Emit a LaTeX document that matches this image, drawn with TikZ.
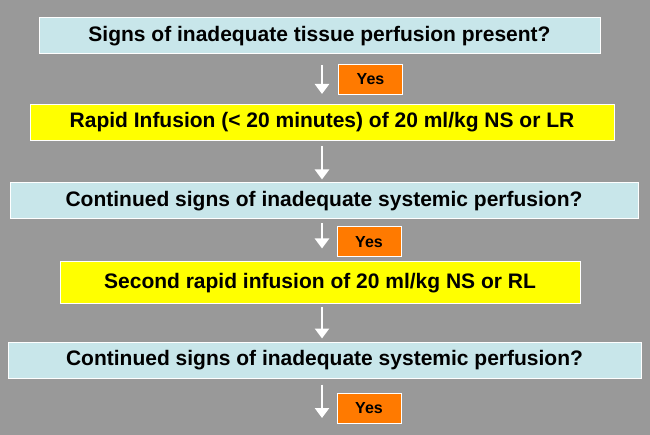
\documentclass[tikz,border=0pt]{standalone}
\usepackage{fontspec}
\setmainfont{Liberation Sans}
\usetikzlibrary{arrows.meta}
\definecolor{bggray}{HTML}{999999}
\definecolor{boxcyan}{HTML}{C8E6EA}
\definecolor{boxyellow}{HTML}{FFFF00}
\definecolor{yesorange}{HTML}{FF7A00}
\tikzset{
  qbox/.style={draw=white, line width=1pt, fill=boxcyan, minimum height=36pt, font=\fontsize{21}{24}\selectfont\bfseries},
  abox/.style={draw=white, line width=1pt, fill=boxyellow, minimum height=36pt, font=\fontsize{21}{24}\selectfont\bfseries},
  yesbox/.style={draw=white, line width=1pt, fill=yesorange, minimum width=64pt, minimum height=30pt, font=\fontsize{16}{18}\selectfont\bfseries},
  flow/.style={draw=white, line width=2.5pt, -{Triangle[length=10pt,width=14pt]}}
}
\begin{document}
\begin{tikzpicture}[x=1pt,y=-1pt]
  % background
  \fill[bggray] (0,0) rectangle (650,435);
  \useasboundingbox (0,0) rectangle (650,435);

  % boxes
  \node[qbox, minimum width=561pt] (q1) at (319.5,36) {Signs of inadequate tissue perfusion present?};
  \node[yesbox] (y1) at (370.5,79.5) {Yes};
  \node[abox, minimum width=584pt] (a1) at (322,122.5) {Rapid Infusion (< 20 minutes) of 20 ml/kg NS or LR};
  \node[qbox, minimum width=628pt] (q2) at (324,201) {Continued signs of inadequate systemic perfusion?};
  \node[yesbox] (y2) at (369,242) {Yes};
  \node[abox, minimum width=520pt, minimum height=42pt] (a2) at (320,283) {Second rapid infusion of 20 ml/kg NS or RL};
  \node[qbox, minimum width=633pt] (q3) at (324.5,360) {Continued signs of inadequate systemic perfusion?};
  \node[yesbox] (y3) at (369,408.5) {Yes};
  \coordinate (mid) at (322,0);
  \coordinate (end) at (322,418);

  % arrows
  \draw[flow, shorten <=11pt, shorten >=10pt] (q1.south -| mid) -- (a1.north -| mid);
  \draw[flow, shorten <=5pt, shorten >=3pt] (a1.south -| mid) -- (q2.north -| mid);
  \draw[flow, shorten <=4pt, shorten >=13pt] (q2.south -| mid) -- (a2.north -| mid);
  \draw[flow, shorten <=3pt, shorten >=3pt] (a2.south -| mid) -- (q3.north -| mid);
  \draw[flow, shorten <=6pt] (q3.south -| mid) -- (end);
\end{tikzpicture}
\end{document}
